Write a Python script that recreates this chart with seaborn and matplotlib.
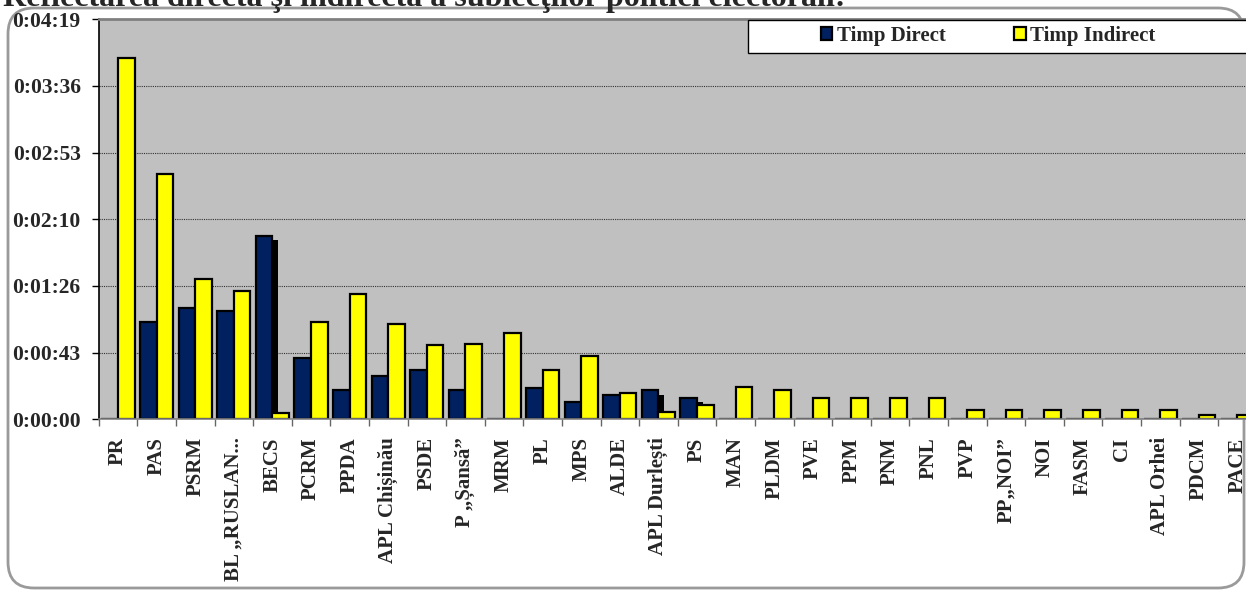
import numpy as np
import pandas as pd
import seaborn as sns
import matplotlib.pyplot as plt
import matplotlib.patches as mpatches
import matplotlib.patheffects as pe
from matplotlib.ticker import FuncFormatter

sns.set_style("white")
plt.rcParams['font.family'] = ['Liberation Serif', 'DejaVu Serif']
plt.rcParams['font.weight'] = 'bold'

# data (seconds)
parties = ['PR', 'PAS', 'PSRM', 'BL „RUSLAN...', 'BECS', 'PCRM', 'PPDA', 'APL Chișinău',
           'PSDE', 'P „Șansă”', 'MRM', 'PL', 'MPS', 'ALDE', 'APL Durlești', 'PS', 'MAN',
           'PLDM', 'PVE', 'PPM', 'PNM', 'PNL', 'PVP', 'PP„NOI”', 'NOI', 'FASM', 'CI',
           'APL Orhei', 'PDCM', 'PACE']
direct = [0, 63, 72, 70, 119, 40, 19, 28, 32, 19, 0, 20, 11, 16, 19, 14, 0,
          0, 0, 0, 0, 0, 0, 0, 0, 0, 0, 0, 0, 0]
indirect = [234, 159, 91, 83, 4, 63, 81, 62, 48, 49, 56, 32, 41, 17, 5, 9, 21,
            19, 14, 14, 14, 14, 6, 6, 6, 6, 6, 6, 3, 3]
series = ['Timp Direct', 'Timp Indirect']
colors = ['#002060', '#FFFF00']

df = pd.DataFrame({
    'Partid': parties * 2,
    'Secunde': direct + indirect,
    'Tip': [series[0]] * len(parties) + [series[1]] * len(parties),
})

W, H = 1246, 591
fig = plt.figure(figsize=(W / 100, H / 100), dpi=100)

# rounded chart border
border = mpatches.FancyBboxPatch((8, 3), 1236, 580, boxstyle="round,pad=0,rounding_size=26",
                                 transform=None, facecolor='white', edgecolor='#9a9a9a',
                                 linewidth=2, zorder=-1)
fig.add_artist(border)

ax = fig.add_axes([98.7 / W, 171.7 / H, 1158 / W, 400 / H])
ax.set_facecolor('#C0C0C0')

sns.barplot(data=df, x='Partid', y='Secunde', hue='Tip', palette=colors, saturation=1,
            width=0.86, gap=0, edgecolor='black', linewidth=1.6,
            legend=False, ax=ax)

# shadow on the direct bars
for p in ax.containers[0]:
    p.set_path_effects([pe.SimplePatchShadow(offset=(4.2, -3.3), shadow_rgbFace='black', alpha=1),
                        pe.Normal()])

ax.set_xlim(-0.5, len(parties) - 0.5)
ax.set_ylim(0, 259)
ax.set_yticks(np.linspace(0, 259, 7))


def hms(v, pos):
    s = int(round(v))
    return f"{s // 3600}:{s % 3600 // 60:02d}:{s % 60:02d}"


ax.yaxis.set_major_formatter(FuncFormatter(hms))
ax.yaxis.grid(True, linestyle=(0, (1, 1)), color='#333333', linewidth=0.8)
ax.xaxis.grid(False)
ax.set_axisbelow(True)

ax.set_xlabel('')
ax.set_ylabel('')
ax.tick_params(axis='y', which='major', direction='out', length=5, width=1,
               color='black', labelsize=15.5, pad=8, left=True)
ax.tick_params(axis='x', which='major', length=0, labelsize=15, pad=13, rotation=90)
ax.set_xticks(np.arange(len(parties) + 1) - 0.5, minor=True)
ax.tick_params(axis='x', which='minor', direction='out', length=5, width=1,
               color='#666666', bottom=True)
for lab in ax.get_xticklabels() + ax.get_yticklabels():
    lab.set_fontweight('bold')

ax.spines['left'].set_color('black')
ax.spines['left'].set_linewidth(1.2)
ax.spines['top'].set_color('#808080')
ax.spines['top'].set_linewidth(2)
ax.spines['bottom'].set_color('#808080')
ax.spines['bottom'].set_linewidth(1.2)
ax.spines['right'].set_visible(False)

# legend box
box = mpatches.Rectangle((748, 591 - 52.5), 520, 33, transform=None,
                         facecolor='white', edgecolor='black', linewidth=1, zorder=5)
fig.add_artist(box)
handles = [mpatches.Patch(facecolor=c, edgecolor='black', linewidth=1.6) for c in colors]
leg = fig.legend(handles, series, loc='center left', bbox_to_anchor=(821 / W, 1 - 36 / H),
                 ncol=2, frameon=False, prop={'size': 15, 'weight': 'bold'},
                 handlelength=0.55, handleheight=0.55, handletextpad=0.2,
                 columnspacing=3.3, borderpad=0, borderaxespad=0)
leg.set_zorder(6)

# title, cut at the top edge in the reference
fig.text(3 / W, 1 - 6 / H, 'Reflectarea directă şi indirectă a subiecţilor politici electorali:',
         fontsize=23, fontweight='bold', ha='left', va='baseline')

fig.savefig('out.png', dpi=100)
